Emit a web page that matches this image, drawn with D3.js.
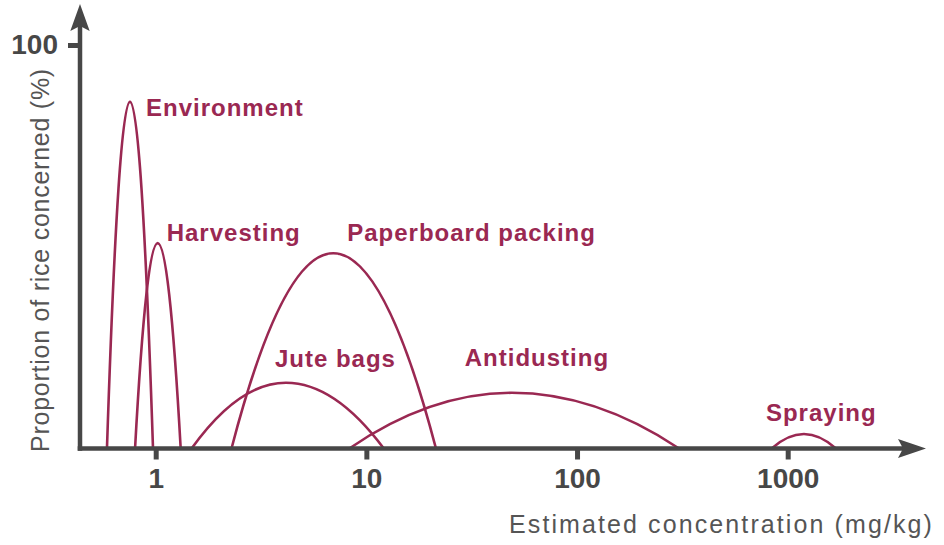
<!DOCTYPE html>
<html>
<head>
<meta charset="utf-8">
<script src="https://cdn.jsdelivr.net/npm/d3@7"></script>
<style>
  html, body { margin: 0; padding: 0; background: #fff; }
  svg { display: block; font-family: "Liberation Sans", Arial, Helvetica, sans-serif; }
</style>
</head>
<body>
<svg id="chart" width="944" height="545"></svg>
<script>
// Sources of contamination and the concentration range each one covers
const sources   = ["Environment", "Harvesting", "Jute bags", "Paperboard packing", "Antidusting", "Spraying"];
const lowConc   = [0.587, 0.798, 1.48, 2.29, 8.3, 839];    // mg/kg, where the curve starts
const peakConc  = [0.755, 1.022, 4.15, 6.96, 49, 1194];    // mg/kg, at the top of the curve
const highConc  = [0.971, 1.314, 12.1, 21.4, 305, 1694];   // mg/kg, where the curve ends
const peakShare = [85.9, 50.9, 16.3, 48.4, 13.8, 3.6];     // % of rice concerned at the top
const xTicks = [1, 10, 100, 1000];
const yTicks = [100];

const rows = sources.map((name, i) => ({
  name, low: lowConc[i], peak: peakConc[i], high: highConc[i], share: peakShare[i]
}));

const svg = d3.select("#chart");
const axisColor = "#474747";
const curveColor = "#9a2852";

const x = d3.scaleLog().domain([1, 1000]).range([155.7, 787.7]);
const y = d3.scaleLinear().domain([0, 100]).range([448.5, 45]);

// Label placement, in pixels from each curve's top
const labelOffset = {
  "Environment":        [16, 14],
  "Harvesting":         [9, -2],
  "Jute bags":          [-11, -16],
  "Paperboard packing": [14, -12],
  "Antidusting":        [-47, -27],
  "Spraying":           [-38, -13]
};

// Each curve: two parabolic halves meeting at the peak
function arch(d) {
  const x0 = x(d.low), xp = x(d.peak), x1 = x(d.high);
  const yb = y(0), yp = y(d.share);
  const p = d3.path();
  p.moveTo(x0, yb);
  p.quadraticCurveTo((x0 + xp) / 2, yp, xp, yp);
  p.quadraticCurveTo((xp + x1) / 2, yp, x1, yb);
  return p.toString();
}

svg.append("g")
  .selectAll("path")
  .data(rows)
  .join("path")
  .attr("d", arch)
  .attr("fill", "none")
  .attr("stroke", curveColor)
  .attr("stroke-width", 2.6);

svg.append("g")
  .selectAll("text")
  .data(rows)
  .join("text")
  .attr("x", d => x(d.peak) + labelOffset[d.name][0])
  .attr("y", d => y(d.share) + labelOffset[d.name][1])
  .attr("fill", curveColor)
  .attr("font-size", 24)
  .attr("font-weight", "bold")
  .attr("letter-spacing", 1)
  .text(d => d.name);

// Axis lines with arrow heads
const x0px = 77.7, yAxisX = 80;
svg.append("line")
  .attr("x1", x0px).attr("x2", 904)
  .attr("y1", y(0)).attr("y2", y(0))
  .attr("stroke", axisColor).attr("stroke-width", 4.5);
svg.append("path")
  .attr("d", `M926,${y(0)} L898,${y(0) - 9.5} L903,${y(0)} L898,${y(0) + 9.5} Z`)
  .attr("fill", axisColor);

svg.append("line")
  .attr("x1", yAxisX).attr("x2", yAxisX)
  .attr("y1", y(0) + 2.25).attr("y2", 25)
  .attr("stroke", axisColor).attr("stroke-width", 4.5);
svg.append("path")
  .attr("d", `M${yAxisX},4 L${yAxisX - 9.7},31 L${yAxisX},26 L${yAxisX + 9.7},31 Z`)
  .attr("fill", axisColor);

// Ticks and tick labels
const xAxis = svg.append("g")
  .attr("transform", `translate(0,${y(0)})`)
  .call(d3.axisBottom(x).tickValues(xTicks).tickFormat(d3.format("d")).tickSize(11).tickPadding(9));
const yAxis = svg.append("g")
  .attr("transform", `translate(${yAxisX},0)`)
  .call(d3.axisLeft(y).tickValues(yTicks).tickFormat(d3.format("d")).tickSize(12).tickPadding(10));

[xAxis, yAxis].forEach(g => {
  g.select(".domain").remove();
  g.selectAll(".tick line").attr("stroke", axisColor).attr("stroke-width", 5);
  g.selectAll(".tick text")
    .attr("fill", axisColor)
    .attr("font-size", 28)
    .attr("font-weight", "bold")
    .attr("font-family", "'Liberation Sans', Arial, Helvetica, sans-serif");
});

// Axis titles
svg.append("text")
  .attr("x", 934).attr("y", 533)
  .attr("text-anchor", "end")
  .attr("fill", "#555")
  .attr("font-size", 25)
  .attr("letter-spacing", 2.1)
  .text("Estimated concentration (mg/kg)");

svg.append("text")
  .attr("transform", "translate(49,260) rotate(-90)")
  .attr("text-anchor", "middle")
  .attr("fill", "#555")
  .attr("font-size", 25)
  .attr("letter-spacing", 0.75)
  .text("Proportion of rice concerned (%)");
</script>
</body>
</html>
